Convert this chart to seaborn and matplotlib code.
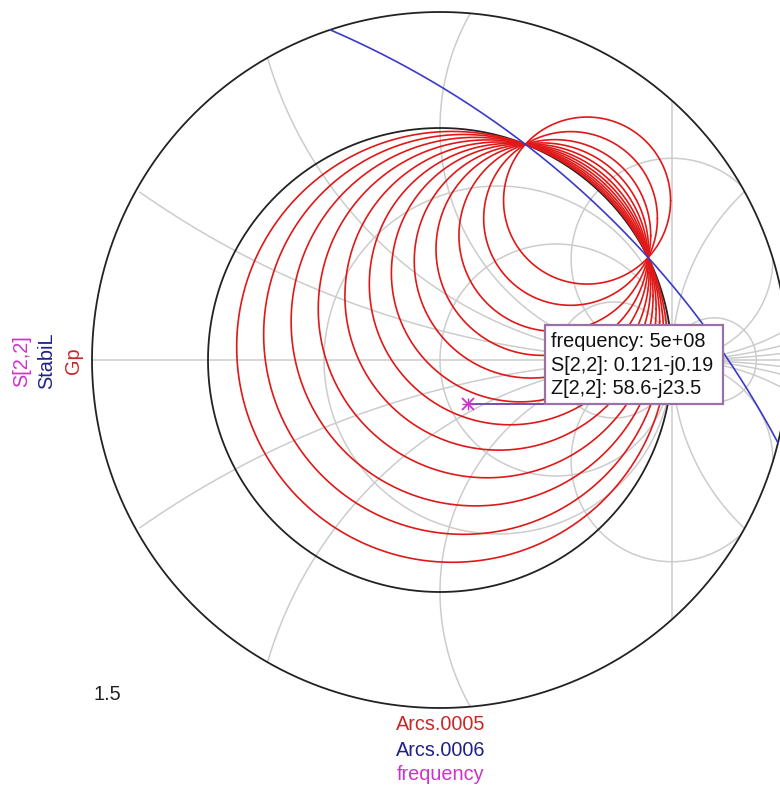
import numpy as np
import pandas as pd
import matplotlib
matplotlib.use("Agg")
import matplotlib.pyplot as plt
from matplotlib.patches import Rectangle
import seaborn as sns

# ---- chart data -------------------------------------------------------
R_OUTER = 1.5                      # outer ring of the reflection plane

# Smith grid: constant reactance / resistance (normalised)
reactance_values = [0.25, 0.55, 1.0, 2.3]
resistance_values = [1 / 3, 1.0, 3.0, -2.0, -6.5]

# StabiL: load stability circle
stab_center = (-2.039, -2.211)
stab_radius = 3.957

# Gp: power gain circles
gp_center_re = [0.0522, 0.1017, 0.1526, 0.2034, 0.2543, 0.3017, 0.3458, 0.3932, 0.4407, 0.4949, 0.5627, 0.6339]
gp_center_im = [0.0566, 0.1103, 0.1654, 0.2205, 0.2756, 0.3271, 0.3749, 0.4263, 0.4778, 0.5366, 0.6101, 0.6872]
gp_radius = [0.9286, 0.8618, 0.7943, 0.7282, 0.6641, 0.6064, 0.5554, 0.5042, 0.4579, 0.4133, 0.3744, 0.3600]

# S[2,2] marker
marker_freq = "5e+08"
s22 = (0.121, -0.19)
z22 = (58.6, -23.5)

# ---- styling ----------------------------------------------------------
sns.set_theme(style="white")
plt.rcParams["font.family"] = ["Liberation Sans", "DejaVu Sans"]

GRID = "#cccccc"
RED = "#e01818"
BLUE = "#3a3ac8"
MAG = "#cc33cc"
FS = 14.3

W, H = 780, 787
CX, CY, UNIT = 440.0, 360.0, 232.0

fig = plt.figure(figsize=(W / 100, H / 100), dpi=100)
ax = fig.add_axes([0, 0, 1, 1])
ax.set_xlim(-CX / UNIT, (W - CX) / UNIT)
ax.set_ylim(-(H - CY) / UNIT, CY / UNIT)
ax.set_aspect("equal")
ax.axis("off")


def px(x, y):
    """pixel position -> reflection-plane coordinates"""
    return (x - CX) / UNIT, (CY - y) / UNIT


def circle(cx, cy, r, n=1441, clip=R_OUTER):
    t = np.linspace(0, 2 * np.pi, n)
    x = cx + r * np.cos(t)
    y = cy + r * np.sin(t)
    out = np.hypot(x, y) > clip + 1e-9
    x[out] = np.nan
    y[out] = np.nan
    return x, y


# grid: real axis
ax.plot([-R_OUTER, R_OUTER], [0, 0], color=GRID, lw=1.1, zorder=1)
# grid: r = -1 line (Re = 1)
yy = np.sqrt(R_OUTER ** 2 - 1)
ax.plot([1, 1], [-yy, yy], color=GRID, lw=1.1, zorder=1)
# grid: reactance circles
for xv in reactance_values:
    for sgn in (1, -1):
        gx, gy = circle(1.0, sgn / xv, 1.0 / xv)
        ax.plot(gx, gy, color=GRID, lw=1.1, zorder=1)
# grid: resistance circles
for rv in resistance_values:
    gx, gy = circle(rv / (1 + rv), 0.0, 1.0 / abs(1 + rv))
    ax.plot(gx, gy, color=GRID, lw=1.1, zorder=1)

# unit circle and outer ring
for rad in (1.0, R_OUTER):
    t = np.linspace(0, 2 * np.pi, 1441)
    ax.plot(rad * np.cos(t), rad * np.sin(t), color="#222222", lw=1.3, zorder=3)

# Gp circles
rows = []
t = np.linspace(0, 2 * np.pi, 721)
for i, (cre, cim, r) in enumerate(zip(gp_center_re, gp_center_im, gp_radius)):
    rows.append(pd.DataFrame({"re": cre + r * np.cos(t), "im": cim + r * np.sin(t),
                              "circle": i, "order": np.arange(t.size)}))
gp = pd.concat(rows, ignore_index=True)
sns.lineplot(data=gp, x="re", y="im", units="circle", estimator=None, sort=False,
             color=RED, lw=1.2, ax=ax, zorder=4, legend=False)

# StabiL circle
sx, sy = circle(stab_center[0], stab_center[1], stab_radius, n=20001)
ax.plot(sx, sy, color=BLUE, lw=1.2, zorder=5)

# S[2,2] marker and readout box
ax.plot([s22[0]], [s22[1]], marker="x", ms=8, mew=1.3, color=MAG, zorder=7)
ax.plot([s22[0]], [s22[1]], marker="+", ms=9, mew=1.0, color=MAG, zorder=7)
bx0, by0 = px(545, 404)
bx1, by1 = px(723, 325)
ax.plot([s22[0], bx0], [s22[1], s22[1]], color="#7050b0", lw=1.4, zorder=6)
ax.add_patch(Rectangle((bx0, by0), bx1 - bx0, by1 - by0, facecolor="white",
                       edgecolor="#9a70a8", lw=1.6, zorder=8))
lines = [f"frequency: {marker_freq}",
         f"S[2,2]: {s22[0]:g}-j{abs(s22[1]):g}",
         f"Z[2,2]: {z22[0]:g}-j{abs(z22[1]):g}"]
for k, txt in enumerate(lines):
    tx, ty = px(551, 342 + 23.5 * k)
    ax.text(tx, ty, txt, fontsize=FS, color="#111111", ha="left", va="center", zorder=9)

# axis annotations
for xpx, lab, col in [(22, "S[2,2]", MAG), (47, "StabiL", "#20208a"), (73, "Gp", "#c82828")]:
    tx, ty = px(xpx, 361)
    ax.text(tx, ty, lab, rotation=90, fontsize=FS, color=col, ha="center", va="center")
for ypx, lab, col in [(725, "Arcs.0005", "#c82828"), (750, "Arcs.0006", "#20208a"), (775, "frequency", MAG)]:
    tx, ty = px(441, ypx)
    ax.text(tx, ty, lab, fontsize=FS, color=col, ha="center", va="center")
tx, ty = px(107, 694)
ax.text(tx, ty, "1.5", fontsize=FS, color="#222222", ha="center", va="center")

fig.savefig("out.png", dpi=100, facecolor="white")
